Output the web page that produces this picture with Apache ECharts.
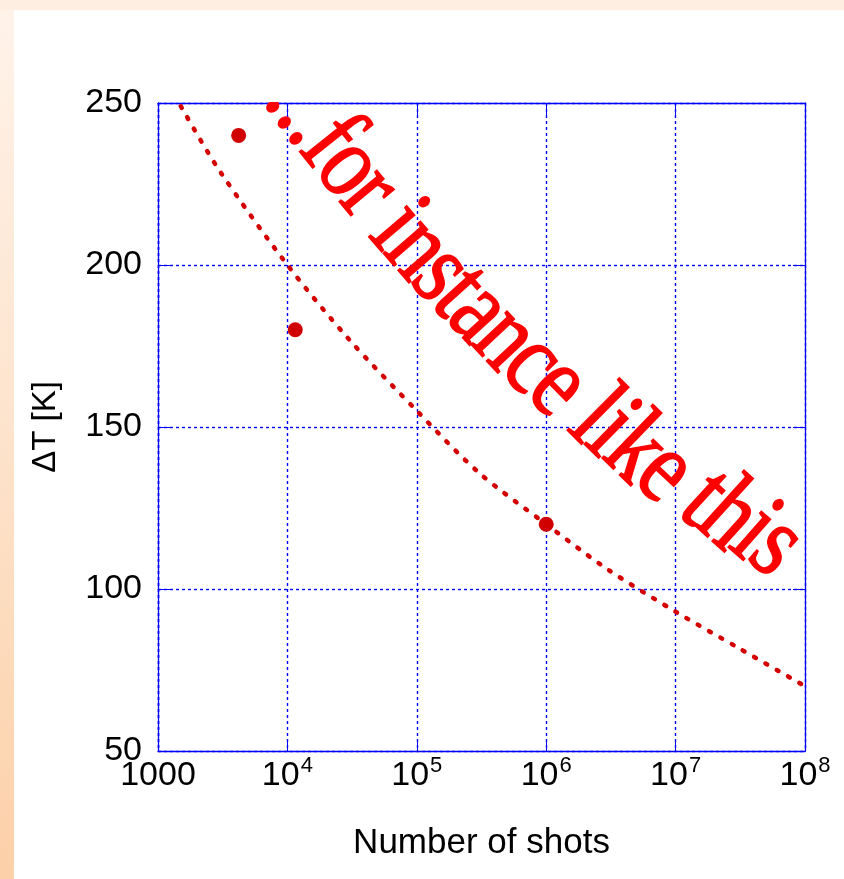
<!DOCTYPE html>
<html>
<head>
<meta charset="utf-8">
<script src="https://cdn.jsdelivr.net/npm/echarts@6/dist/echarts.min.js"></script>
<style>
  html, body { margin: 0; padding: 0; background: #ffffff; }
  #bgLeft { position: absolute; left: 0; top: 0; width: 14px; height: 879px;
            background: linear-gradient(to bottom, #fff3ea 0%, #fde3cc 50%, #fcd0a8 100%); }
  #bgTop { position: absolute; left: 0; top: 0; width: 844px; height: 10px; background: #feeee2; }
  #chart { position: absolute; left: 0; top: 0; width: 844px; height: 879px; }
</style>
</head>
<body>
<div id="bgLeft"></div>
<div id="bgTop"></div>
<div id="chart"></div>
<script>
// ---- data ----
const xTicks = [1000, 10000, 100000, 1000000, 10000000, 100000000];
const xTickLabels = ['1000', '10^4', '10^5', '10^6', '10^7', '10^8'];
const yTicks = [50, 100, 150, 200, 250];
const yTickLabels = ['50', '100', '150', '200', '250'];
const measuredShots = [4200, 11500, 1000000];
const measuredDT = [240, 180, 120];
const fitShots = [1500, 3000, 10000, 30000, 100000, 300000, 1000000, 3000000, 10000000, 30000000, 100000000];
const fitDT = [249, 229, 200, 177, 155, 136, 120, 106, 93, 82, 70];
const xAxisName = 'Number of shots';
const yAxisName = 'ΔT [K]';
const overlayText = '...for instance like this';

const SANS = '"Liberation Sans", Arial, Helvetica, sans-serif';
const SERIF = '"Liberation Serif", "Times New Roman", serif';
const BLUE = '#0000ff';
const GRIDBLUE = '#0000ff';

function xLabel(v) {
  let idx = -1;
  for (let i = 0; i < xTicks.length; i++) {
    if (Math.abs(Math.log10(v) - Math.log10(xTicks[i])) < 1e-6) idx = i;
  }
  if (idx < 0) return '';
  const s = xTickLabels[idx];
  if (s.indexOf('^') >= 0) {
    const p = s.split('^');
    return '{b|' + p[0] + '}{s|' + p[1] + '}';
  }
  return '{b|' + s + '}';
}
function yLabel(v) {
  const idx = yTicks.indexOf(v);
  return idx >= 0 ? yTickLabels[idx] : '';
}

// ---- curved overlay text, laid out char by char along an arc ----
function buildOverlay() {
  const ctx = document.createElement('canvas').getContext('2d');
  const FONTW = '';
  ctx.font = FONTW + '100px ' + SERIF;
  const w100 = ctx.measureText(overlayText).width;
  const S = [256, 106], E = [766, 580];
  const dx = E[0] - S[0], dy = E[1] - S[1];
  const chord = Math.hypot(dx, dy);
  const phi = Math.atan2(dy, dx);
  const delta = 24 * Math.PI / 180;
  const th0 = phi + delta / 2;
  const R = chord / (2 * Math.sin(delta / 2));
  const arcLen = R * delta;
  const fsFit = arcLen * 100 / w100;
  const fs = fsFit * 1.08;
  const C = [S[0] + R * Math.sin(th0), S[1] - R * Math.cos(th0)];
  const els = [];
  const lean = 44 * Math.PI / 180;
  for (let i = 0; i < overlayText.length; i++) {
    const ch = overlayText[i];
    if (ch === ' ') continue;
    const s = ctx.measureText(overlayText.slice(0, i)).width * fsFit / 100;
    const th = th0 - s / R;
    const P = [C[0] - R * Math.sin(th), C[1] + R * Math.cos(th)];
    const rot = th * 0.5 + lean * 0.5 + 3 * Math.PI / 180;
    els.push({
      type: 'text', x: P[0], y: P[1], rotation: -rot, scaleX: 1, scaleY: 1.25,
      z: 100, silent: true,
      style: { text: ch, x: 0, y: -0.34 * fs, font: FONTW + fs.toFixed(2) + 'px ' + SERIF,
               fill: '#ff0000', stroke: '#ff0000', lineWidth: 1.3,
               textAlign: 'left', textVerticalAlign: 'middle',
               align: 'left', verticalAlign: 'middle' }
    });
  }
  return els;
}

const chart = echarts.init(document.getElementById('chart'), null, { renderer: 'canvas' });

const tickStyle = { show: true, inside: true, length: 12, lineStyle: { color: BLUE, width: 1 } };
const lineStyleAxis = { show: true, lineStyle: { color: BLUE, width: 1.3 } };

const option = {
  backgroundColor: 'transparent',
  animation: false,
  grid: { left: 158, right: 39, top: 103, bottom: 128, containLabel: false },
  xAxis: [
    {
      type: 'log', logBase: 10, min: 1000, max: 100000000, position: 'bottom',
      axisLine: lineStyleAxis, axisTick: tickStyle,
      splitLine: { show: true, lineStyle: { color: GRIDBLUE, width: 1.4, type: [3, 3] } },
      minorTick: { show: false },
      axisLabel: {
        margin: 4, formatter: xLabel, color: '#000',
        rich: {
          b: { fontSize: 34, lineHeight: 34, fontFamily: SANS, color: '#000', padding: [8, 0, 0, 0] },
          s: { fontSize: 22, lineHeight: 22, fontFamily: SANS, color: '#000', verticalAlign: 'top', padding: [0, 0, 0, 1] }
        }
      },
      name: xAxisName, nameLocation: 'middle', nameGap: 75,
      nameTextStyle: { fontSize: 35, fontFamily: SANS, color: '#000' }
    },
    {
      type: 'log', logBase: 10, min: 1000, max: 100000000, position: 'top',
      axisLine: lineStyleAxis, axisTick: tickStyle,
      splitLine: { show: false }, axisLabel: { show: false }
    }
  ],
  yAxis: [
    {
      type: 'value', min: 50, max: 250, interval: 50, position: 'left',
      axisLine: lineStyleAxis, axisTick: tickStyle,
      splitLine: { show: true, lineStyle: { color: GRIDBLUE, width: 1.4, type: [3, 3] } },
      axisLabel: { margin: 16, formatter: yLabel, fontSize: 34, fontFamily: SANS, color: '#000' },
      name: yAxisName, nameLocation: 'middle', nameGap: 96, nameRotate: 90,
      nameTextStyle: { fontSize: 33, fontFamily: SANS, color: '#000' }
    },
    {
      type: 'value', min: 50, max: 250, interval: 50, position: 'right',
      axisLine: lineStyleAxis, axisTick: tickStyle,
      splitLine: { show: false }, axisLabel: { show: false }
    }
  ],
  series: [
    {
      type: 'line', xAxisIndex: 0, yAxisIndex: 0,
      data: fitShots.map((x, i) => [x, fitDT[i]]),
      showSymbol: false, smooth: 0.3, clip: true, silent: true,
      lineStyle: { color: '#d40000', width: 4.5, type: [2, 11], cap: 'round' },
      z: 3
    },
    {
      type: 'scatter', xAxisIndex: 0, yAxisIndex: 0,
      data: measuredShots.map((x, i) => [x, measuredDT[i]]),
      symbol: 'circle', symbolSize: 15, silent: true,
      itemStyle: { color: '#d00000', opacity: 1 }, z: 4
    }
  ],
  graphic: [
    {
      type: 'rect', z: 110, silent: true,
      shape: { x: 159, y: 10, width: 685, height: 92 },
      style: { fill: '#ffffff' }
    }
  ].concat(buildOverlay())
};
chart.setOption(option);
</script>
</body>
</html>
